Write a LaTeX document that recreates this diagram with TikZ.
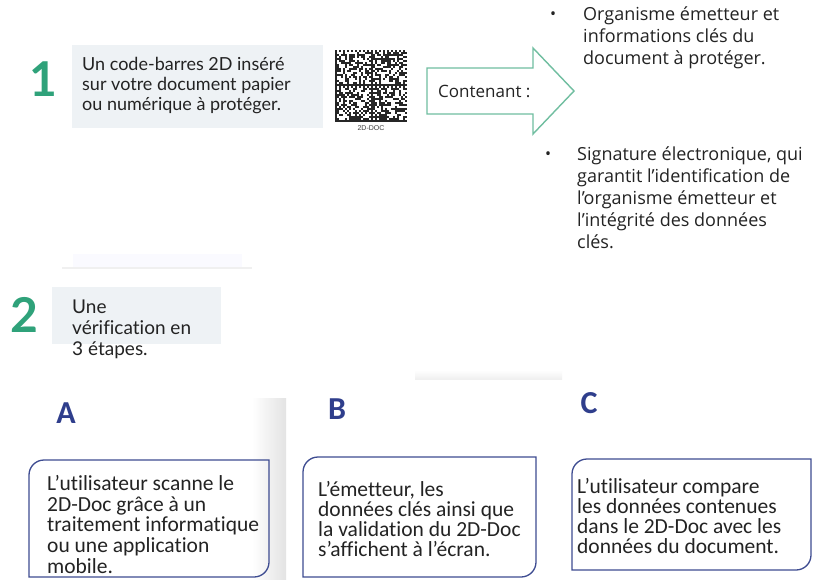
\documentclass[tikz,border=0pt]{standalone}
\usepackage{fontspec}
\newfontfamily\marfont[Ligatures=NoCommon]{Lato}
\newfontfamily\segfont[Ligatures=NoCommon]{Open Sans}
\newfontfamily\calfont[Ligatures=NoCommon]{Carlito}
\newfontfamily\smallsans{Liberation Sans}
\definecolor{digitgreen}{RGB}{47,162,122}
\definecolor{panelgray}{RGB}{238,242,245}
\definecolor{arrowgreen}{RGB}{112,190,160}
\definecolor{letterblue}{RGB}{47,62,140}
\definecolor{boxblue}{RGB}{62,76,145}
\definecolor{txt}{RGB}{35,35,35}
\newcommand{\dgbox}[5]{%
  \draw[boxline] (#1,-#4) -- (#1,{-#2-#5}) arc[start angle=180,end angle=90,radius=#5]
    -- (#3,-#2) -- (#3,{-#4+#5}) arc[start angle=0,end angle=-90,radius=#5] -- cycle;}
\tikzset{
  bigdigit/.style={font=\marfont\bfseries\fontsize{48}{48}\selectfont, text=digitgreen, inner sep=0},
  toptext/.style={font=\marfont\fontsize{18}{20}\selectfont, text=txt, align=left, anchor=north west, inner sep=0},
  bullettext/.style={font=\segfont\fontsize{18}{21.8}\selectfont, text=txt, align=left, anchor=north west, inner sep=0},
  bulletdot/.style={font=\segfont\fontsize{16}{16}\selectfont, text=txt, inner sep=0},
  steplabel/.style={font=\calfont\bfseries\fontsize{32}{32}\selectfont, text=letterblue, inner sep=0},
  boxtext/.style={font=\calfont\fontsize{21.5}{20.75}\selectfont, text=txt, align=left, anchor=north west, inner sep=0},
  boxline/.style={draw=boxblue, line width=1.3pt},
}
\begin{document}
\begin{tikzpicture}[x=1pt,y=1pt]
\useasboundingbox (0,0) rectangle (813,-579);
\fill[white] (0,0) rectangle (813,-579);

% faint decorations
\fill[blue!2] (73,-254) rectangle (242,-268);
\fill[gray!12] (62,-266.5) rectangle (252,-268.5);
\shade[left color=white, right color=black!11] (252,-398) rectangle (286,-579);
\shade[top color=white, bottom color=black!6] (415,-370) rectangle (562,-379);

% ---- step 1
\node[bigdigit] (one) at (43,-79.5) {1};
\fill[panelgray] (72,-45) rectangle (323,-128);
\node[toptext] (t1) at (82,-57) {Un code-barres 2D inséré\\sur votre document papier\\ou numérique à protéger.};

% DataMatrix-like code
\pgfmathsetseed{4242}
\foreach \rx in {0,1}{\foreach \ry in {0,1}{
  \foreach \i in {0,...,17}{\foreach \j in {0,...,17}{
    \pgfmathtruncatemacro\bit{(\i==0) || (\j==17) || ((\j==0) && (mod(\i,2)==0)) || ((\i==17) && (mod(\j,2)==1)) || ((\i>0) && (\i<17) && (\j>0) && (\j<17) && (rnd<0.5))}
    \ifnum\bit=1 \fill[black!85] (335+\rx*36+\i*2,-50-\ry*36-\j*2) rectangle ++(2,-2);\fi
  }}}}
\node[font=\smallsans\fontsize{7}{7}\selectfont, text=black!75, inner sep=0] (dmlabel) at (371,-128) {2D-DOC};

% arrow
\draw[draw=arrowgreen, line width=1.4pt, fill=white, line join=miter]
  (427,-68) -- (533,-68) -- (533,-48) -- (574,-91) -- (533,-134) -- (533,-114) -- (427,-114) -- cycle;
\node[font=\segfont\fontsize{17}{17}\selectfont, text=txt, anchor=base west, inner sep=0] (cont) at (438,-97) {Contenant :};

% bullets
\node[bulletdot] (b1) at (553,-16) {•};
\node[bullettext] (bt1) at (583,-7) {Organisme émetteur et\\informations clés du\\document à protéger.};
\node[bulletdot] (b2) at (548,-156) {•};
\node[bullettext] (bt2) at (577,-147) {Signature électronique, qui\\garantit l’identification de\\l’organisme émetteur et\\l’intégrité des données\\clés.};

% ---- step 2
\node[bigdigit] (two) at (24,-314.5) {2};
\fill[panelgray] (52,-287) rectangle (221,-344);
\node[toptext, font=\marfont\fontsize{19}{21}\selectfont] (t2) at (72,-300) {Une\\vérification en\\3 étapes.};

% ---- A B C
\node[steplabel] (la) at (66,-413) {A};
\node[steplabel] (lb) at (337,-409) {B};
\node[steplabel] (lc) at (589,-403) {C};

\dgbox{29}{460}{269}{577}{15}
\dgbox{303}{457}{536}{577}{15}
\dgbox{572}{459}{811}{570}{15}

\node[boxtext] (ta) at (47,-475) {L’utilisateur scanne le\\2D-Doc grâce à un\\traitement informatique\\ou une application\\mobile.};
\node[boxtext, font=\calfont\fontsize{21.5}{20}\selectfont] (tb) at (318,-481) {L’émetteur, les\\données clés ainsi que\\la validation du 2D-Doc\\s’affichent à l’écran.};
\node[boxtext, font=\calfont\fontsize{21.5}{20}\selectfont] (tc) at (577,-478) {L’utilisateur compare\\les données contenues\\dans le 2D-Doc avec les\\données du document.};
\end{tikzpicture}
\end{document}
